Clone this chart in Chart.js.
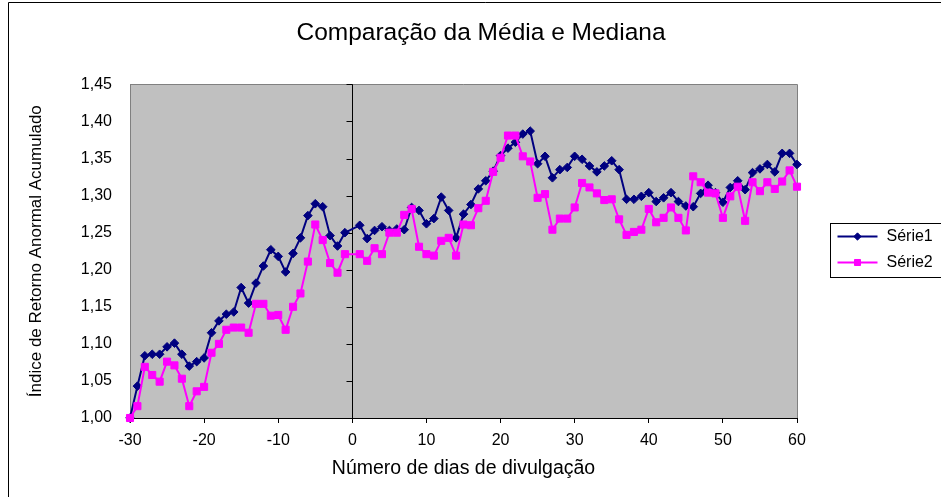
<!DOCTYPE html>
<html><head><meta charset="utf-8">
<script src="https://cdn.jsdelivr.net/npm/chart.js@4.4.0/dist/chart.umd.min.js"></script>
<style>
html,body{margin:0;padding:0;overflow:hidden;background:#fff;}
#wrap{position:relative;width:962px;height:497px;}
canvas{display:block;}
</style></head><body>
<div id="wrap"><canvas id="c" width="962" height="497"></canvas></div>
<script>
// ---- data ----
const days = [-30,-29,-28,-27,-26,-25,-24,-23,-22,-21,-20,-19,-18,-17,-16,-15,-14,-13,-12,-11,-10,-9,-8,-7,-6,-5,-4,-3,-2,-1,
  1,2,3,4,5,6,7,8,9,10,11,12,13,14,15,16,17,18,19,20,21,22,23,24,25,26,27,28,29,30,
  31,32,33,34,35,36,37,38,39,40,41,42,43,44,45,46,47,48,49,50,51,52,53,54,55,56,57,58,59,60];
const serie1 = [1.000,1.043,1.084,1.086,1.086,1.096,1.101,1.086,1.070,1.076,1.081,1.115,1.131,1.140,1.143,1.176,1.155,1.182,1.205,1.227,1.218,1.197,1.222,1.243,1.273,1.289,1.285,1.246,1.232,1.250,
  1.260,1.242,1.253,1.258,1.253,1.255,1.254,1.284,1.280,1.262,1.269,1.298,1.280,1.243,1.275,1.288,1.309,1.320,1.333,1.354,1.364,1.372,1.383,1.387,1.343,1.353,1.324,1.335,1.338,1.353,
  1.349,1.340,1.332,1.340,1.347,1.335,1.295,1.295,1.299,1.304,1.292,1.297,1.304,1.292,1.286,1.285,1.303,1.314,1.304,1.291,1.311,1.320,1.308,1.331,1.336,1.342,1.332,1.357,1.357,1.342];
const serie2 = [1.000,1.016,1.069,1.058,1.049,1.076,1.071,1.053,1.016,1.036,1.042,1.088,1.100,1.119,1.122,1.122,1.115,1.154,1.154,1.138,1.139,1.119,1.150,1.168,1.211,1.261,1.240,1.209,1.196,1.221,
  1.221,1.212,1.229,1.221,1.250,1.250,1.274,1.282,1.231,1.221,1.219,1.239,1.243,1.219,1.261,1.260,1.283,1.293,1.332,1.351,1.381,1.381,1.353,1.346,1.297,1.302,1.254,1.269,1.269,1.284,
  1.317,1.311,1.303,1.294,1.295,1.268,1.247,1.251,1.254,1.282,1.264,1.270,1.284,1.270,1.253,1.326,1.318,1.304,1.303,1.270,1.299,1.312,1.266,1.318,1.306,1.318,1.309,1.319,1.334,1.312];
const seriesNames = ['Série1','Série2'];
const xTickLabels = ['-30','-20','-10','0','10','20','30','40','50','60'];
const yTickLabels = ['1,00','1,05','1,10','1,15','1,20','1,25','1,30','1,35','1,40','1,45'];
const chartTitle = 'Comparação da Média e Mediana';
const xTitle = 'Número de dias de divulgação';
const yTitle = 'Índice de Retorno Anormal Acumulado';

// ---- chart ----
const FONT = "'Liberation Sans', Arial, sans-serif";
Chart.defaults.font.family = FONT;
Chart.defaults.color = '#000';

const excelLook = {
  id: 'excelLook',
  beforeDraw(chart) {
    const {ctx, chartArea: a} = chart;
    ctx.save();
    ctx.fillStyle = '#fff';
    ctx.fillRect(0, 0, chart.width, chart.height);
    ctx.fillStyle = '#C0C0C0';
    ctx.fillRect(a.left, a.top, a.right - a.left, a.bottom - a.top);
    ctx.strokeStyle = '#000';
    ctx.lineWidth = 1;
    ctx.beginPath();
    ctx.moveTo(8.5, chart.height);
    ctx.lineTo(8.5, 2.5);
    ctx.lineTo(chart.width, 2.5);
    ctx.stroke();
    ctx.restore();
  },
  beforeDatasetsDraw(chart) {
    const {ctx, chartArea: a, scales: {x, y}} = chart;
    ctx.save();
    ctx.lineWidth = 1;
    ctx.strokeStyle = '#808080';
    ctx.beginPath();
    ctx.moveTo(a.left, Math.round(a.top) + 0.5);
    ctx.lineTo(Math.round(a.right) + 0.5, Math.round(a.top) + 0.5);
    ctx.lineTo(Math.round(a.right) + 0.5, a.bottom);
    ctx.stroke();
    const x0 = Math.round(x.getPixelForValue(0)) + 0.5;
    ctx.strokeStyle = '#000';
    ctx.beginPath();
    ctx.moveTo(x0, a.top);
    ctx.lineTo(x0, a.bottom);
    y.ticks.forEach(t => {
      const py = Math.round(y.getPixelForValue(t.value)) + 0.5;
      ctx.moveTo(x0 - 6, py);
      ctx.lineTo(x0, py);
    });
    ctx.stroke();
    ctx.restore();
  },
  afterDraw(chart) {
    const {ctx, chartArea: a} = chart;
    const lx = Math.round(a.right) + 33.5;
    const ly = Math.round(a.top) + 139.5;
    ctx.save();
    ctx.fillStyle = '#fff';
    ctx.fillRect(lx, ly, chart.width - lx - 10, 54);
    ctx.strokeStyle = '#000';
    ctx.lineWidth = 1;
    ctx.strokeRect(lx, ly, chart.width - lx - 10, 54);
    chart.data.datasets.forEach((ds, i) => {
      const cy = ly + 13 + i * 26;
      ctx.strokeStyle = ds.borderColor;
      ctx.lineWidth = ds.borderWidth;
      ctx.beginPath();
      ctx.moveTo(lx + 7, cy);
      ctx.lineTo(lx + 47, cy);
      ctx.stroke();
      ctx.fillStyle = ds.backgroundColor;
      ctx.strokeStyle = ds.borderColor;
      ctx.lineWidth = 1;
      Chart.helpers.drawPoint(ctx, {pointStyle: ds.pointStyle, rotation: 0, radius: ds.pointRadius * 0.85, borderWidth: 1}, lx + 27, cy);
      ctx.fillStyle = '#000';
      ctx.font = '16px ' + FONT;
      ctx.textBaseline = 'middle';
      ctx.textAlign = 'left';
      ctx.fillText(ds.label, lx + 56, cy);
    });
    ctx.restore();
  }
};

new Chart(document.getElementById('c'), {
  type: 'line',
  data: {
    datasets: [
      {label: seriesNames[0], data: days.map((d, i) => ({x: d, y: serie1[i]})),
       borderColor: '#000080', backgroundColor: '#000080', borderWidth: 2,
       pointStyle: 'rectRot', pointRadius: 4.3, pointBorderWidth: 1, pointHoverRadius: 4.3,
       tension: 0, clip: false, order: 2},
      {label: seriesNames[1], data: days.map((d, i) => ({x: d, y: serie2[i]})),
       borderColor: '#FF00FF', backgroundColor: '#FF00FF', borderWidth: 2,
       pointStyle: 'rect', pointRadius: 5, pointBorderWidth: 1, pointHoverRadius: 5,
       tension: 0, clip: false, order: 1}
    ]
  },
  options: {
    responsive: false,
    animation: false,
    events: [],
    layout: {padding: 0},
    plugins: {
      legend: {display: false},
      tooltip: {enabled: false},
      title: {display: true, text: chartTitle, color: '#000',
              font: {size: 24.5, weight: 'normal', family: FONT},
              padding: {top: 19, bottom: 36}}
    },
    scales: {
      x: {type: 'linear', min: -30, max: 60,
          ticks: {stepSize: 10, padding: 8, color: '#000', font: {size: 16},
                  callback: (v, i) => xTickLabels[i] ?? String(v)},
          grid: {drawOnChartArea: false, drawTicks: true, tickLength: 5, tickColor: '#000'},
          border: {display: true, color: '#000'},
          title: {display: true, text: xTitle, color: '#000', font: {size: 19.5},
                  padding: {top: 0, bottom: 17}},
          afterFit: s => { s.height = 79; }},
      y: {type: 'linear', min: 1, max: 1.45,
          ticks: {stepSize: 0.05, padding: 18, color: '#000', font: {size: 16},
                  callback: (v, i) => yTickLabels[i] ?? String(v)},
          grid: {drawOnChartArea: false, drawTicks: false},
          border: {display: true, color: '#808080'},
          title: {display: true, text: yTitle, color: '#000', font: {size: 17},
                  padding: {top: 26, bottom: 0}},
          afterFit: s => { s.width = 130; }},
      yR: {type: 'linear', position: 'right', display: true,
           ticks: {display: false}, grid: {display: false}, border: {display: false},
           afterFit: s => { s.width = 165; }}
    }
  },
  plugins: [excelLook]
});
</script>
</body></html>
